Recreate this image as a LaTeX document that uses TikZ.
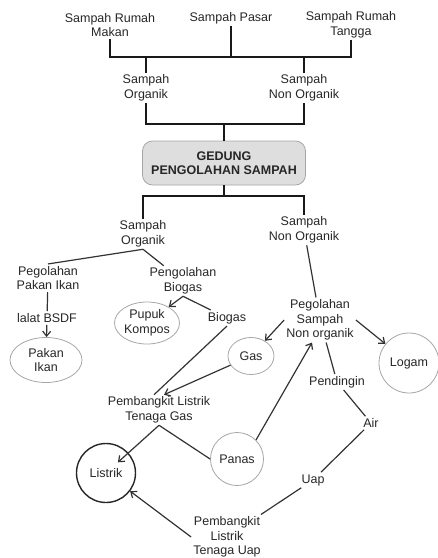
\documentclass[tikz,border=0pt]{standalone}
\usepackage{fontspec}
\setmainfont{Liberation Sans}
\usepackage{tikz}
\usetikzlibrary{arrows.meta}
\usetikzlibrary{shapes.geometric}

\begin{document}
\begin{tikzpicture}[x=1pt, y=-1pt,
            lbl/.style={align=center, inner sep=2pt, text=black!85, font=\fontsize{12.5}{14.5}\selectfont},
            bub/.style={lbl, ellipse, inner sep=0pt, draw=black!35, line width=0.8pt},
            bus/.style={line width=2.8pt, black!90},
            con/.style={line width=1.2pt, black!80},
            arr/.style={con, -{Straight Barb[length=5pt, width=8pt]}}]
            \useasboundingbox (0,0) rectangle (438,558);
            \draw (110,25) node[lbl]                  (makan) {Sampah Rumah\\Makan};
            \draw (231,18) node[lbl]                  (pasar) {Sampah Pasar};
            \draw (351,25) node[lbl]                  (tangga) {Sampah Rumah\\Tangga};
            \draw (146,88) node[lbl]                  (org1) {Sampah\\Organik};
            \draw (304,88) node[lbl]                  (non1) {Sampah\\Non Organik};
            \draw (224,163) node[lbl, draw=black!35, fill=black!13, line width=0.8pt, rounded corners=10pt, minimum width=163pt, minimum height=44pt, font=\fontsize{12.5}{14.5}\selectfont\bfseries] (gedung) {GEDUNG\\PENGOLAHAN SAMPAH};
            \draw (143,234) node[lbl]                 (org2) {Sampah\\Organik};
            \draw (304,230) node[lbl]                 (non2) {Sampah\\Non Organik};
            \draw (48,278) node[lbl]                  (pakanproc) {Pegolahan\\Pakan Ikan};
            \draw (183,281) node[lbl]                 (biogasproc) {Pengolahan\\Biogas};
            \draw (47,318) node[lbl]                  (lalat) {lalat BSDF};
            \draw (46,360) node[bub, minimum width=72pt, minimum height=45pt] (pakan) {Pakan\\Ikan};
            \draw (147,323) node[bub, minimum width=65pt, minimum height=42pt] (pupuk) {Pupuk\\Kompos};
            \draw (227,318) node[lbl]                 (biogas) {Biogas};
            \draw (320,320) node[lbl]                 (nonproc) {Pegolahan\\Sampah\\Non organik};
            \draw (251,356) node[bub, minimum width=46pt, minimum height=37pt] (gas) {Gas};
            \draw (409,363) node[bub, minimum size=60pt] (logam) {Logam};
            \draw (337,382) node[lbl]                 (pendingin) {Pendingin};
            \draw (371,423) node[lbl]                 (air) {Air};
            \draw (313,480) node[lbl]                 (uap) {Uap};
            \draw (159,410) node[lbl]                 (pltgas) {Pembangkit Listrik\\Tenaga Gas};
            \draw (237,459) node[bub, minimum size=53pt] (panas) {Panas};
            \draw (106,473) node[bub, draw=black!85, line width=1.4pt, minimum size=59pt] (listrik) {Listrik};
            \draw (227,537) node[lbl]                 (pltuap) {Pembangkit\\Listrik\\Tenaga Uap};
            \coordinate (j1) at (231,57);
            \coordinate (j2) at (224,124);
            \coordinate (j3) at (224,196);
            \draw[bus] (makan) |- (j1) -| (tangga);
            \draw[bus] (pasar) -- (j1);
            \draw[bus] (org1) -- (org1 |- j1);
            \draw[bus] (non1) -- (non1 |- j1);
            \draw[bus] (org1) |- (j2) -| (non1);
            \draw[bus] (j2) -- (gedung);
            \draw[bus] (gedung) -- (j3);
            \draw[bus] (org2) |- (j3) -| (non2);
            \draw[con] (org2.south) -- (pakanproc.north);
            \draw[con] (org2.south) -- (biogasproc);
            \draw[con] (pakanproc) -- (lalat);
            \draw[arr] (lalat) -- (pakan);
            \draw[arr] (biogasproc.south) -- (pupuk);
            \draw[con] (biogasproc.south) -- (biogas);
            \draw[con] (biogas.south) -- ([xshift=-5pt]pltgas.north);
            \draw[arr] (gas) -- ([xshift=5pt]pltgas.north);
            \draw[arr, shorten >=16pt] (pltgas.south) -- (listrik.center);
            \draw[con] (pltgas.south) -- (panas.west);
            \draw[con] (non2) -- (nonproc);
            \draw[arr] (nonproc.west) -- (gas);
            \draw[arr] (nonproc.east) -- (logam);
            \draw[arr] (panas.north east) -- ([xshift=-8pt]nonproc.south);
            \draw[con] (nonproc) -- (pendingin);
            \draw[con] (pendingin) -- (air);
            \draw[con] (air) -- (uap);
            \draw[con] (uap) -- (pltuap);
            \draw[arr] (pltuap.west) -- (listrik);
\end{tikzpicture}
\end{document}
